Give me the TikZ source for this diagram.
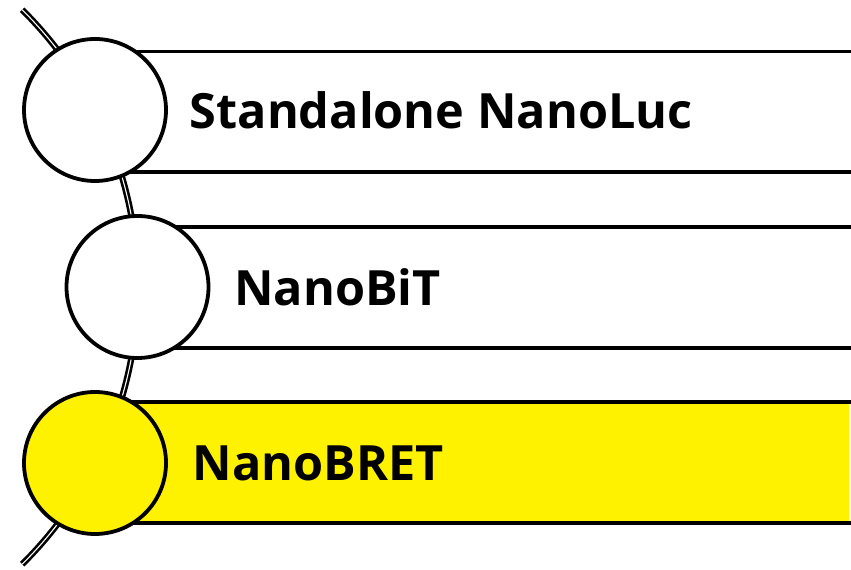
\documentclass[tikz,border=0pt]{standalone}
\usepackage{fontspec}
\setmainfont{Open Sans}
\usetikzlibrary{positioning}

\begin{document}
\begin{tikzpicture}[x=1pt,y=1pt,line width=3.8pt]
\tikzstyle{ring}=[circle, draw, fill=white, minimum size=142pt, inner sep=0pt]
\tikzstyle{bar}=[rectangle, anchor=east, minimum height=117pt, minimum width=720pt, inner sep=0pt]
\tikzstyle{bartext}=[font=\fontsize{48.6}{56}\selectfont\bfseries, inner sep=0pt]
  \useasboundingbox (0,0) rectangle (851,570);
  % spine behind the rings
  \coordinate (spinetop) at (22.2,560.2);
  \draw[line width=2.6pt, double=white, double distance=1.1pt]
    (spinetop) arc[start angle=45.3, end angle=-45.3, radius=390];
  % bars
  \node[bar, fill=white] (b1) at (851,458) {};
  \node[bar, fill=white] (b2) at (851,282.5) {};
  \node[bar, fill=yellow] (b3) at (851,107.5) {};
  \foreach \b in {b1,b2,b3}{
    \draw (\b.north west) -- (\b.north east);
    \draw (\b.south west) -- (\b.south east);
  }
  % rings
  \node[ring] (c1) at (95,460) {};
  \node[ring] (c2) at (137.5,283) {};
  \node[ring, fill=yellow] (c3) at (95,107) {};
  % texts
  \node[bartext, right=20pt of c1] (t1) {Standalone NanoLuc};
  \node[bartext, right=22pt of c2] (t2) {NanoBiT};
  \node[bartext, right=23pt of c3] (t3) {NanoBRET};
\end{tikzpicture}
\end{document}
